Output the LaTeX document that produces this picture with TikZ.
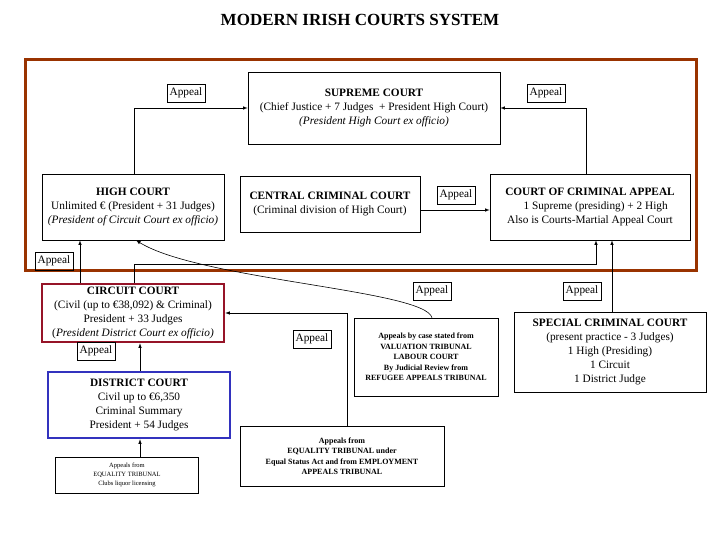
\documentclass[tikz,border=0pt]{standalone}
\usepackage{fontspec}
\setmainfont{Liberation Serif}
\definecolor{frame-brown}{RGB}{153,51,0}
\definecolor{circuit-red}{RGB}{150,20,40}
\definecolor{district-blue}{RGB}{50,50,190}
\usetikzlibrary{positioning}
\begin{document}
\begin{tikzpicture}[x=1pt,y=-1pt,
    court/.style={draw, line width=0.6pt, align=center, inner sep=1pt, font=\fontsize{11.3}{14}\selectfont},
    appeal/.style={draw, line width=0.6pt, font=\fontsize{11.3}{13}\selectfont, inner sep=2.5pt, minimum height=18pt},
    small/.style={draw, line width=0.6pt, align=center, font=\fontsize{8}{10.5}\selectfont\bfseries},
    link/.style={-latex, line width=0.6pt}
]
\useasboundingbox (0,0) rectangle (720,540);

% Title
\node[font=\fontsize{17}{19}\selectfont\bfseries] (title) at (360,20) {MODERN IRISH COURTS SYSTEM};

% Superior courts frame
\draw[frame-brown, line width=3pt] (25,60) rectangle (696,270);

% Courts
\node[court, minimum width=252pt, minimum height=72pt] (supreme) at (374,108)
    {\textbf{SUPREME COURT}\\(Chief Justice + 7 Judges \ + President High Court)\\\textit{(President High Court ex officio)}};
\node[court, minimum width=182pt, minimum height=66pt] (high) at (133,207)
    {\textbf{HIGH COURT}\\Unlimited € (President + 31 Judges)\\\textit{(President of Circuit Court ex officio)}};
\node[court, minimum width=180pt, minimum height=56pt] (central) at (330,204)
    {\textbf{CENTRAL CRIMINAL COURT}\\(Criminal division of High Court)};
\node[court, minimum width=200pt, minimum height=66pt] (cca) at (590,207)
    {\textbf{COURT OF CRIMINAL APPEAL}\\\quad 1 Supreme (presiding) + 2 High\\Also is Courts-Martial Appeal Court};
\node[court, draw=circuit-red, line width=2.5pt, minimum width=182pt, minimum height=58pt] (circuit) at (133,313)
    {\textbf{CIRCUIT COURT}\\(Civil (up to €38,092) \& Criminal)\\President + 33 Judges\\(\textit{President District Court ex officio)}};
\node[court, draw=district-blue, line width=2.5pt, minimum width=182pt, minimum height=66pt] (district) at (139,405)
    {\textbf{DISTRICT COURT}\\Civil up to €6,350\\Criminal Summary\\President + 54 Judges};
\node[court, minimum width=192pt, minimum height=80pt] (special) at (610,352)
    {\textbf{SPECIAL CRIMINAL COURT}\\(present practice - 3 Judges)\\1 High (Presiding)\\1 Circuit\\1 District Judge};

% Tribunals
\node[small, minimum width=144pt, minimum height=78pt] (valuation) at (426,357)
    {Appeals by case stated from\\VALUATION TRIBUNAL\\LABOUR COURT\\By Judicial Review from\\REFUGEE APPEALS TRIBUNAL};
\node[small, minimum width=204pt, minimum height=60pt] (equality) at (342,456)
    {Appeals from\\EQUALITY TRIBUNAL under\\Equal Status Act and from EMPLOYMENT\\APPEALS TRIBUNAL};
\node[small, font=\fontsize{6.5}{9}\selectfont, minimum width=143pt, minimum height=36pt] (clubs) at (127,475)
    {Appeals from\\EQUALITY TRIBUNAL\\Clubs liquor licensing};

% Appeal labels
\node[appeal] (ap1) at (186,93) {Appeal};
\node[appeal] (ap2) at (546,93) {Appeal};
\node[appeal] (ap3) at (456,195) {Appeal};
\node[appeal] (ap4) at (54,261) {Appeal};
\node[appeal] (ap5) at (432,291) {Appeal};
\node[appeal] (ap6) at (582,291) {Appeal};
\node[appeal] (ap7) at (312,339) {Appeal};
\node[appeal] (ap8) at (96,351) {Appeal};

% Connectors
\draw[link] (high.north -| 134,0) |- (supreme.west |- 0,108);
\draw[link] (cca.north -| 586,0) |- (supreme.east |- 0,108);
\draw[link] (central.east |- 0,210) -- (cca.west |- 0,210);
\draw[link] (circuit.north -| 80,0) -- (high.south -| 80,0);
\draw[link] (circuit.north -| 134,0) |- (596,264) -- (cca.south -| 596,0);
\draw[link] (special.north -| 612,0) -- (cca.south -| 612,0);
\draw[link] (valuation.north -| 432,0) .. controls (425,290) and (200,280) .. (high.south -| 136,0);
\draw[link] (equality.north -| 347,0) |- (circuit.east |- 0,313);
\draw[link] (district.north -| 140,0) -- (circuit.south -| 140,0);
\draw[link] (clubs.north -| 140,0) -- (district.south -| 140,0);
\end{tikzpicture}
\end{document}
